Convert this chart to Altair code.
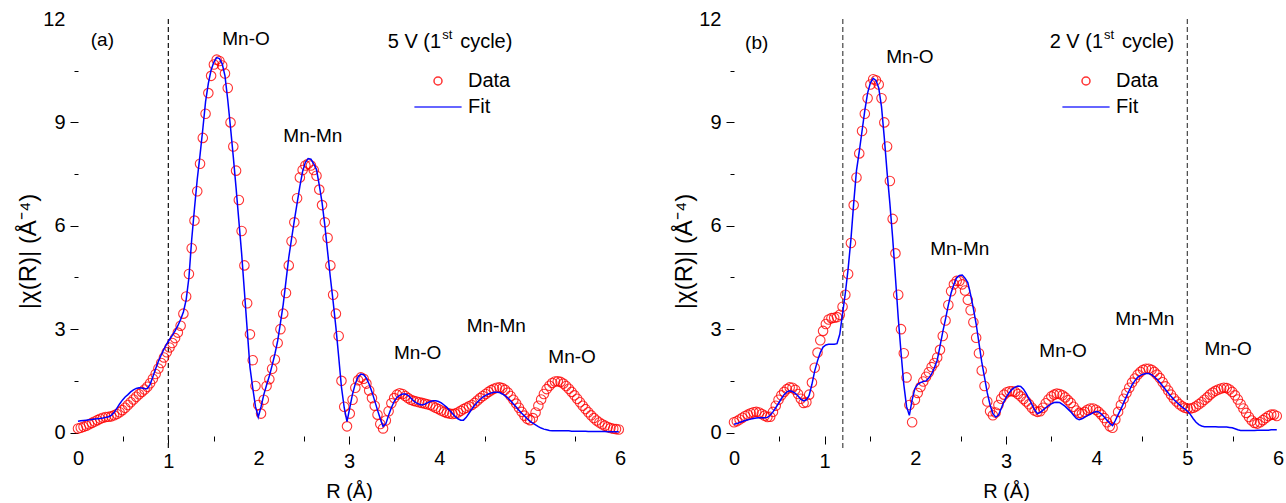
import altair as alt
import pandas as pd

FONT = "Liberation Sans"
STEP = 0.0307  # R-grid spacing of the Fourier transform (Å)

# |chi(R)| for the 5 V (1st cycle) sample
a_data = [
    0.12, 0.14, 0.17, 0.20, 0.24, 0.28, 0.32, 0.36, 0.40, 0.43,
    0.45, 0.46, 0.47, 0.50, 0.54, 0.59, 0.65, 0.72, 0.80, 0.88,
    0.96, 1.04, 1.11, 1.18, 1.25, 1.33, 1.43, 1.56, 1.70, 1.86,
    2.02, 2.18, 2.33, 2.47, 2.60, 2.74, 2.90, 3.10, 3.45, 3.95,
    4.60, 5.35, 6.15, 7.00, 7.80, 8.55, 9.25, 9.85, 10.35, 10.68,
    10.82, 10.78, 10.65, 10.42, 10.00, 9.00, 8.30, 7.60, 6.75, 5.85,
    4.85, 3.75, 2.85, 2.10, 1.35, 0.80, 0.55, 0.95, 1.35, 1.55,
    1.85, 2.12, 2.60, 3.00, 3.45, 4.05, 4.85, 5.55, 6.10, 6.80,
    7.40, 7.62, 7.75, 7.80, 7.75, 7.62, 7.45, 7.05, 6.60, 6.10,
    5.65, 4.85, 4.00, 3.45, 2.80, 1.50, 0.75, 0.18, 0.55, 0.95,
    1.30, 1.52, 1.60, 1.56, 1.42, 1.22, 1.00, 0.78, 0.52, 0.25,
    0.12, 0.35, 0.62, 0.85, 1.00, 1.10, 1.14, 1.12, 1.06, 1.00,
    0.95, 0.92, 0.90, 0.88, 0.86, 0.84, 0.82, 0.80, 0.76, 0.72,
    0.68, 0.64, 0.60, 0.57, 0.55, 0.54, 0.55, 0.58, 0.63, 0.68,
    0.72, 0.76, 0.80, 0.86, 0.93, 1.00, 1.06, 1.12, 1.18, 1.23,
    1.27, 1.30, 1.31, 1.29, 1.24, 1.16, 1.06, 0.95, 0.84, 0.72,
    0.60, 0.49, 0.40, 0.36, 0.42, 0.58, 0.78, 0.96, 1.12, 1.26,
    1.36, 1.44, 1.48, 1.49, 1.47, 1.42, 1.35, 1.27, 1.18, 1.08,
    0.98, 0.88, 0.78, 0.68, 0.59, 0.50, 0.42, 0.35, 0.29, 0.24,
    0.20, 0.16, 0.13, 0.11, 0.10, 0.09,
]
a_fit = [
    0.33, 0.34, 0.35, 0.36, 0.37, 0.38, 0.39, 0.40, 0.41, 0.42,
    0.44, 0.46, 0.50, 0.58, 0.70, 0.83, 0.94, 1.03, 1.10, 1.18,
    1.24, 1.28, 1.30, 1.29, 1.27, 1.28, 1.40, 1.62, 1.85, 2.07,
    2.25, 2.42, 2.57, 2.70, 2.82, 2.95, 3.10, 3.28, 3.50, 3.85,
    4.50, 5.60, 6.50, 7.35, 8.05, 8.80, 9.60, 10.13, 10.52, 10.75,
    10.88, 10.85, 10.70, 10.35, 9.65, 8.85, 8.00, 7.10, 6.15, 5.20,
    4.10, 3.00, 1.90, 1.30, 0.75, 0.45, 0.75, 1.10, 1.38, 1.64,
    1.95, 2.28, 2.66, 3.18, 3.72, 4.40, 5.08, 5.62, 6.15, 6.65,
    7.14, 7.58, 7.84, 7.95, 7.93, 7.80, 7.63, 7.18, 6.68, 6.02,
    5.25, 4.50, 3.80, 3.05, 2.20, 1.32, 0.72, 0.32, 0.72, 1.12,
    1.42, 1.62, 1.70, 1.68, 1.58, 1.40, 1.18, 0.92, 0.65, 0.40,
    0.18, 0.25, 0.50, 0.72, 0.90, 1.02, 1.08, 1.12, 1.12, 1.08,
    1.00, 0.92, 0.86, 0.82, 0.80, 0.82, 0.86, 0.90, 0.92, 0.92,
    0.90, 0.86, 0.80, 0.73, 0.64, 0.55, 0.47, 0.40, 0.36, 0.36,
    0.44, 0.56, 0.68, 0.79, 0.88, 0.96, 1.03, 1.08, 1.12, 1.15,
    1.17, 1.17, 1.16, 1.12, 1.07, 1.00, 0.92, 0.83, 0.74, 0.65,
    0.56, 0.48, 0.40, 0.33, 0.27, 0.22, 0.17, 0.13, 0.10, 0.08,
    0.06, 0.05, 0.05, 0.05, 0.05, 0.05, 0.05, 0.05, 0.04, 0.04,
    0.04, 0.04, 0.04, 0.04, 0.03, 0.03, 0.03, 0.03, 0.03, 0.03,
    0.03, 0.02, 0.02, 0.02, 0.02, 0.02,
]

# |chi(R)| for the 2 V (1st cycle) sample
b_data = [
    0.30, 0.33, 0.38, 0.43, 0.48, 0.52, 0.56, 0.59, 0.60, 0.58,
    0.54, 0.49, 0.45, 0.46, 0.60, 0.78, 0.95, 1.08, 1.18, 1.26,
    1.31, 1.30, 1.24, 1.12, 0.98, 0.86, 0.88, 1.10, 1.45, 1.88,
    2.32, 2.68, 2.95, 3.15, 3.28, 3.32, 3.33, 3.35, 3.42, 3.65,
    4.00, 4.60, 5.50, 6.60, 7.40, 8.10, 8.75, 9.25, 9.70, 10.10,
    10.25, 10.22, 10.10, 9.70, 9.00, 8.30, 7.30, 6.20, 5.20, 4.00,
    3.00, 2.30, 1.60, 0.80, 0.30, 0.95, 1.15, 1.32, 1.48, 1.62,
    1.75, 1.90, 2.02, 2.18, 2.40, 2.80, 3.25, 3.70, 4.10, 4.30,
    4.40, 4.40, 4.30, 4.12, 3.85, 3.55, 3.20, 2.75, 2.30, 1.80,
    1.35, 0.90, 0.62, 0.50, 0.58, 0.80, 0.98, 1.10, 1.17, 1.20,
    1.20, 1.18, 1.12, 1.05, 0.97, 0.90, 0.82, 0.72, 0.64, 0.60,
    0.62, 0.72, 0.85, 0.96, 1.05, 1.10, 1.13, 1.12, 1.08, 1.02,
    0.94, 0.86, 0.75, 0.64, 0.57, 0.55, 0.60, 0.66, 0.70, 0.70,
    0.66, 0.60, 0.52, 0.42, 0.30, 0.18, 0.14, 0.38, 0.60, 0.80,
    0.98, 1.15, 1.30, 1.45, 1.57, 1.68, 1.76, 1.82, 1.85, 1.85,
    1.82, 1.76, 1.68, 1.58, 1.46, 1.34, 1.22, 1.10, 0.99, 0.90,
    0.82, 0.76, 0.72, 0.70, 0.70, 0.72, 0.76, 0.82, 0.88, 0.95,
    1.02, 1.10, 1.16, 1.21, 1.25, 1.28, 1.30, 1.29, 1.25, 1.18,
    1.08, 0.96, 0.83, 0.70, 0.57, 0.45, 0.35, 0.28, 0.26, 0.30,
    0.36, 0.42, 0.48, 0.52, 0.52, 0.48,
]
b_fit = [
    0.24, 0.26, 0.29, 0.32, 0.35, 0.37, 0.39, 0.41, 0.42, 0.43,
    0.43, 0.43, 0.44, 0.50, 0.60, 0.72, 0.85, 0.98, 1.10, 1.18,
    1.21, 1.19, 1.14, 1.06, 0.97, 0.92, 0.95, 1.08, 1.40, 1.79,
    2.08, 2.32, 2.48, 2.54, 2.56, 2.56, 2.56, 2.58, 2.85, 3.45,
    4.05, 4.75, 5.60, 6.65, 7.60, 8.15, 8.75, 9.35, 9.85, 10.15,
    10.28, 10.22, 10.00, 9.45, 8.55, 7.55, 6.65, 5.65, 4.50, 3.33,
    2.33, 1.40, 0.75, 0.50, 0.95, 1.28, 1.40, 1.45, 1.48, 1.50,
    1.58, 1.70, 1.88, 2.10, 2.50, 2.92, 3.30, 3.70, 4.05, 4.30,
    4.49, 4.56, 4.57, 4.48, 4.35, 4.00, 3.60, 3.15, 2.60, 2.05,
    1.60, 1.15, 0.80, 0.55, 0.45, 0.50, 0.70, 0.90, 1.05, 1.17,
    1.26, 1.32, 1.35, 1.34, 1.26, 1.13, 0.98, 0.82, 0.66, 0.55,
    0.58, 0.65, 0.72, 0.78, 0.83, 0.87, 0.88, 0.87, 0.82, 0.76,
    0.68, 0.60, 0.50, 0.41, 0.37, 0.40, 0.45, 0.49, 0.53, 0.58,
    0.61, 0.60, 0.54, 0.45, 0.36, 0.27, 0.20, 0.35, 0.52, 0.68,
    0.86, 1.05, 1.22, 1.38, 1.50, 1.60, 1.66, 1.69, 1.71, 1.71,
    1.68, 1.62, 1.54, 1.45, 1.35, 1.25, 1.15, 1.05, 0.96, 0.88,
    0.81, 0.74, 0.68, 0.62, 0.52, 0.40, 0.30, 0.23, 0.19, 0.17,
    0.17, 0.17, 0.17, 0.17, 0.16, 0.16, 0.16, 0.16, 0.15, 0.14,
    0.11, 0.08, 0.06, 0.06, 0.06, 0.06, 0.06, 0.06, 0.07, 0.07,
    0.07, 0.07, 0.07, 0.08, 0.08, 0.08,
]

R = [round(i * STEP, 4) for i in range(len(a_data))]

SERIES = ["Data", "Fit"]
SERIES_COLORS = ["#ff0000", "#0000ff"]
SERIES_SHAPES = ["circle", "M-5.9,0H5.9"]

X_TICKS = [i * 0.5 for i in range(13)]
Y_TICKS = [i * 1.5 for i in range(9)]

# peak assignments: (R, |chi|, label)
a_notes = [(0.27, 11.4, "(a)"), (1.86, 11.42, "Mn-O"), (2.6, 8.6, "Mn-Mn"),
           (3.76, 2.3, "Mn-O"), (4.63, 3.08, "Mn-Mn"), (5.47, 2.2, "Mn-O")]
b_notes = [(0.25, 11.3, "(b)"), (1.94, 10.9, "Mn-O"), (2.49, 5.32, "Mn-Mn"),
           (3.63, 2.37, "Mn-O"), (4.53, 3.29, "Mn-Mn"), (5.45, 2.43, "Mn-O")]

W_A, W_B, H = 542, 544, 417


def panel(data, fit, guides, guide_color, notes, volt, state_at, legend_at, width):
    pts = pd.DataFrame({"R": R, "chi": data, "series": "Data"})
    ln = pd.DataFrame({"R": R, "chi": fit, "series": "Fit"})

    x = alt.X(
        "R:Q",
        scale=alt.Scale(domain=[0, 6], nice=False, zero=False),
        axis=alt.Axis(
            values=X_TICKS, title="R (Å)", grid=False, domain=False,
            labelExpr="datum.value % 1 == 0 ? format(datum.value, 'd') : ''",
            labelFlush=False, labelOverlap=False,
            labelFont=FONT, labelFontSize=20, labelColor="black", labelPadding=7,
            tickColor="black", tickWidth=1,
            tickSize={"condition": {"test": "datum.value == 1 || datum.value == 3", "value": 8}, "value": 5},
            tickOpacity={"condition": {"test": "indexof([0, 2, 4, 5, 6], datum.value) >= 0", "value": 0}, "value": 1},
            titleFont=FONT, titleFontSize=20, titleFontWeight="normal", titleColor="black",
            titlePadding=10,
        ),
    )
    y = alt.Y(
        "chi:Q",
        scale=alt.Scale(domain=[-0.1, 12], nice=False, zero=False),
        axis=alt.Axis(
            values=Y_TICKS, title="|χ(R)| (Å⁻⁴)", grid=False, domain=False,
            labelExpr="datum.value % 3 == 0 ? datum.label : ''",
            labelFlush=False, labelOverlap=False,
            labelFont=FONT, labelFontSize=20, labelColor="black", labelPadding=5,
            tickColor="black", tickWidth=1,
            tickSize={"condition": {"test": "datum.value % 3 == 0", "value": 8}, "value": 4},
            tickOpacity={"condition": {"test": "datum.value >= 12", "value": 0}, "value": 1},
            titleFont=FONT, titleFontSize=24, titleFontWeight="normal", titleColor="black",
            titlePadding=2, titleY=232,
        ),
    )
    legend = alt.Legend(
        orient="none", legendX=legend_at[0], legendY=legend_at[1], direction="vertical",
        title=None, padding=0, labelFont=FONT, labelFontSize=20, labelColor="black",
        symbolSize=64, symbolStrokeWidth=1.5, labelOffset=20, rowPadding=6,
    )
    color = alt.Color("series:N", scale=alt.Scale(domain=SERIES, range=SERIES_COLORS), legend=legend)
    shape = alt.Shape("series:N", scale=alt.Scale(domain=SERIES, range=SERIES_SHAPES), legend=legend)

    rules = alt.Chart(pd.DataFrame({"R": guides, "chi": [12] * len(guides)})).mark_rule(
        color=guide_color, strokeDash=[5, 3], strokeWidth=1.2
    ).encode(x=x, y=alt.value(0), y2=alt.value(H + 12))

    points = alt.Chart(pts).mark_point(
        filled=False, size=90, strokeWidth=1.1, opacity=0.8
    ).encode(x=x, y=y, color=color, shape=shape)

    line = alt.Chart(ln).mark_line(strokeWidth=1.5).encode(x=x, y=y, color=color)

    notes_df = pd.DataFrame(notes, columns=["R", "chi", "label"])
    labels = alt.Chart(notes_df).mark_text(
        font=FONT, fontSize=19, color="black"
    ).encode(x=x, y=y, text="label:N")

    st = pd.DataFrame({"R": [state_at[0]], "chi": [state_at[1]]})
    s1 = alt.Chart(st).mark_text(font=FONT, fontSize=20, color="black", align="right",
                                 text=f"{volt} V (1").encode(x=x, y=y)
    s2 = alt.Chart(st).mark_text(font=FONT, fontSize=13, color="black", align="left",
                                 dx=1, dy=-7, text="st").encode(x=x, y=y)
    s3 = alt.Chart(st).mark_text(font=FONT, fontSize=20, color="black", align="left",
                                 dx=19, text="cycle)").encode(x=x, y=y)

    return alt.layer(rules, points, line, labels, s1, s2, s3).properties(width=width, height=H)


pa = panel(a_data, a_fit, [1.0], "#111111", a_notes, 5, (4.02, 11.34), (350, 52), W_A)
pb = panel(b_data, b_fit, [1.2, 5.0], "#444444", b_notes, 2, (4.07, 11.33), (342, 52), W_B)

chart = (
    alt.hconcat(pa, pb, spacing=46)
    .resolve_scale(color="independent", shape="independent")
    .properties(padding={"left": 16, "top": 9, "right": 0, "bottom": 0}, background="white")
    .configure_view(stroke=None)
)

chart.save("out.html", embed_options={"renderer": "svg", "actions": False})
